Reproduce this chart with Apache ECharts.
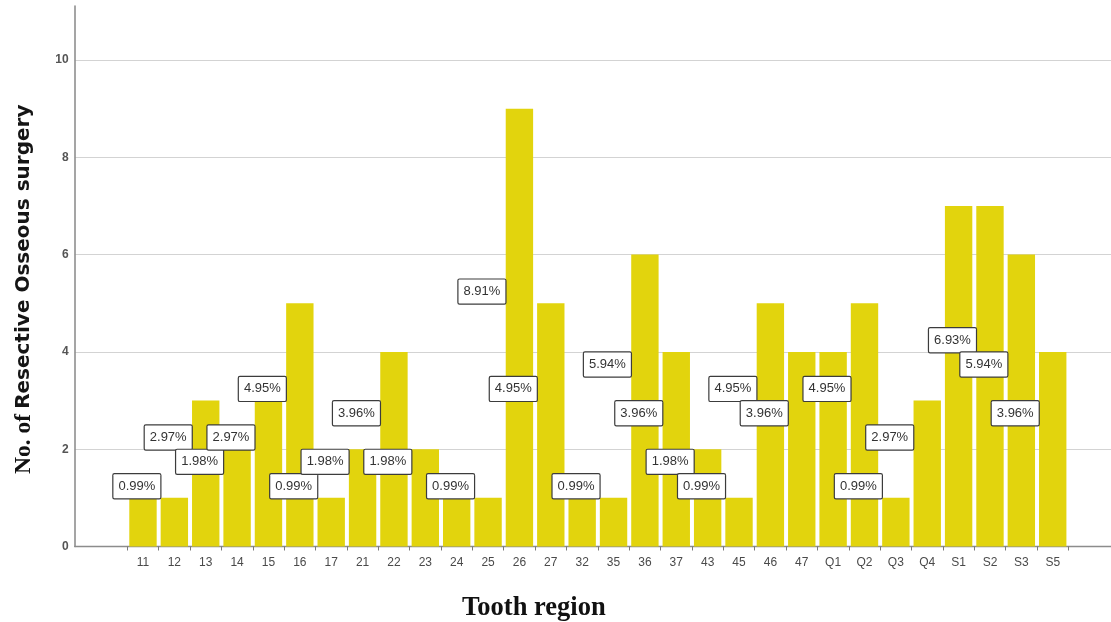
<!DOCTYPE html>
<html>
<head>
<meta charset="utf-8">
<title>Resective Osseous surgery by tooth region</title>
<script src="https://cdn.jsdelivr.net/npm/echarts@6/dist/echarts.min.js"></script>
<style>
  html, body { margin: 0; padding: 0; background: #ffffff; }
  #chart { width: 1111px; height: 622px; }
</style>
</head>
<body>
<div id="chart"></div>
<script>
// Tooth regions on the x axis
const categories = ['11', '12', '13', '14', '15', '16', '17', '21', '22', '23', '24', '25', '26', '27',
  '32', '35', '36', '37', '43', '45', '46', '47', 'Q1', 'Q2', 'Q3', 'Q4', 'S1', 'S2', 'S3', 'S5'];

// Number of resective osseous surgeries per region
const counts = [1, 1, 3, 2, 3, 5, 1, 2, 4, 2, 1, 1, 9, 5, 1, 1, 6, 4, 2, 1, 5, 4, 4, 5, 1, 3, 7, 7, 6, 4];

// Regions whose percentage box is not printed
const unlabeled = ['11', '24', '32', 'Q1', 'S1'];

// Value axis
const yMax = 11.11;
const yInterval = 2;

const total = counts.reduce((a, b) => a + b, 0);
const pct = v => (v / total * 100).toFixed(2) + '%';

const chart = echarts.init(document.getElementById('chart'), null, { renderer: 'canvas' });

const barColor = '#E2D40D';
const tickColor = '#4a4a4a';

const option = {
  animation: false,
  backgroundColor: '#ffffff',
  grid: [
    // bar area
    { left: 127.3, right: 42.6, top: 6, bottom: 75.5, outerBoundsMode: 'none' },
    // full frame: value axis, grid lines and baseline
    { left: 74.7, right: 0, top: 6, bottom: 75.5, outerBoundsMode: 'none' }
  ],
  xAxis: [
    {
      gridIndex: 0,
      type: 'category',
      data: categories,
      axisLine: { show: false },
      axisTick: { show: true, length: 4, lineStyle: { color: '#7a7a7a', width: 1 } },
      axisLabel: {
        interval: 0, margin: 10, color: tickColor, fontSize: 12,
        fontFamily: 'Liberation Sans, Arial, sans-serif'
      },
      splitLine: { show: false }
    },
    {
      gridIndex: 1,
      type: 'value',
      min: 0, max: 1,
      axisLine: { show: true, lineStyle: { color: '#8c8c8c', width: 1.3 } },
      axisTick: { show: false },
      axisLabel: { show: false },
      splitLine: { show: false },
      name: 'Tooth region',
      nameLocation: 'middle',
      nameGap: 48,
      nameTextStyle: {
        fontFamily: 'Liberation Serif, Times New Roman, serif',
        fontWeight: 'bold', fontSize: 26.5, color: '#111', lineHeight: 28,
        padding: [0, 118, 0, 0]
      }
    }
  ],
  yAxis: [
    { gridIndex: 0, type: 'value', min: 0, max: yMax, show: false },
    {
      gridIndex: 1,
      type: 'value',
      min: 0, max: yMax, interval: yInterval,
      axisLine: { show: true, lineStyle: { color: '#8f8f8f', width: 1.6 } },
      axisTick: { show: false },
      axisLabel: {
        showMaxLabel: false, margin: 6, color: '#555', fontSize: 12, fontWeight: 'bold',
        fontFamily: 'Liberation Sans, Arial, sans-serif'
      },
      splitLine: {
        show: true, showMaxLine: false, showMinLine: false,
        lineStyle: { color: '#d3d3d3', width: 1.2 }
      },
      name: '{a|No. of} {b|Resective Osseous surgery}',
      nameLocation: 'middle',
      nameGap: 37,
      nameTextStyle: {
        fontSize: 18, color: '#111', padding: [0, 26, 0, 0],
        rich: {
          a: {
            fontFamily: 'Liberation Serif, Times New Roman, serif', fontWeight: 'bold',
            fontSize: 23.5, color: '#111', lineHeight: 28
          },
          b: {
            fontFamily: 'DejaVu Sans, Verdana, sans-serif', fontWeight: 'bold',
            fontSize: 20, color: '#151515', lineHeight: 28
          }
        }
      }
    }
  ],
  series: [
    {
      type: 'bar',
      xAxisIndex: 0,
      yAxisIndex: 0,
      barCategoryGap: '12.7%',
      itemStyle: { color: barColor },
      data: counts.map((v, i) => ({
        value: v,
        label: { show: !unlabeled.includes(categories[i]) }
      })),
      label: {
        show: true,
        position: 'inside',
        offset: [-37.5, -36],
        formatter: p => pct(p.value),
        color: '#333',
        fontSize: 13,
        lineHeight: 15,
        fontFamily: 'Liberation Sans, Arial, sans-serif',
        backgroundColor: '#ffffff',
        borderColor: '#3c3c3c',
        borderWidth: 1.2,
        borderRadius: 1,
        padding: [5, 5, 4, 5]
      }
    }
  ]
};

chart.setOption(option);
</script>
</body>
</html>
